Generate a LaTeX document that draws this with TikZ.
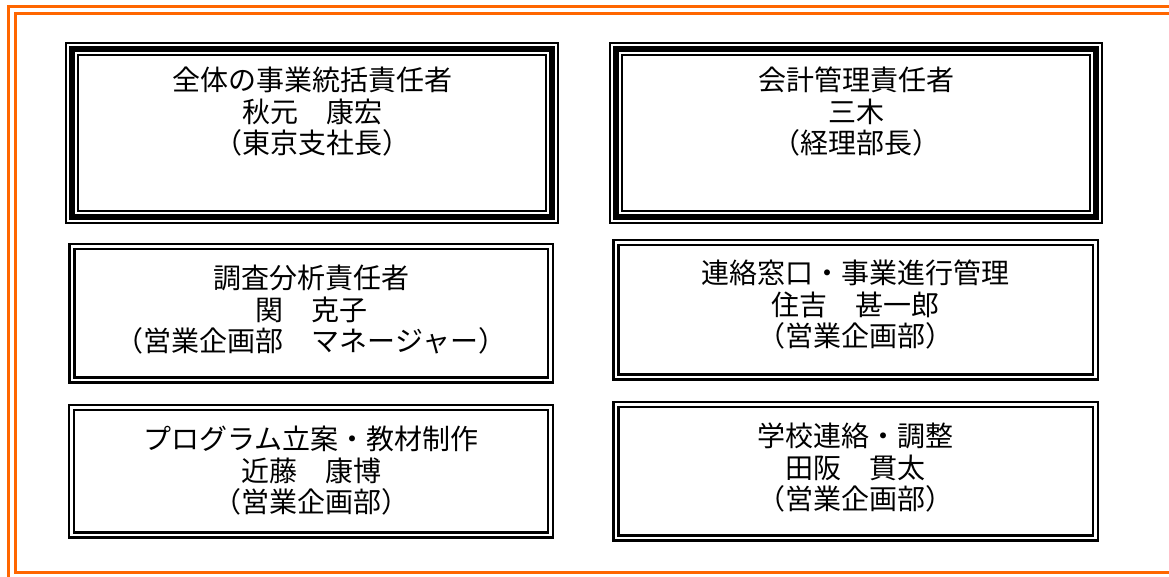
\documentclass[tikz,border=0pt]{standalone}
\usepackage{fontspec}
\setmainfont{Noto Sans CJK JP}
\definecolor{frameorange}{RGB}{255,102,0}
\newcommand\tripleborder[1]{%
  \draw[black,line width=14pt] (#1.north west) rectangle (#1.south east);
  \draw[white,line width=10pt] (#1.north west) rectangle (#1.south east);
  \draw[black,line width=6pt] (#1.north west) rectangle (#1.south east);}
\newcommand\doubleborder[1]{%
  \draw[black,line width=7.5pt] (#1.north west) rectangle (#1.south east);
  \draw[white,line width=2.5pt] (#1.north west) rectangle (#1.south east);}
\begin{document}
\begin{tikzpicture}[x=1pt,y=1pt,line join=miter,
  boxshape/.style={rectangle,inner sep=0pt,outer sep=0pt,draw=none},
  boxtext/.style={align=center,inner sep=0pt,font=\fontsize{28pt}{31.5pt}\selectfont}]
\useasboundingbox (0,0) rectangle (1169,577);
\begin{scope}
  \clip (0,0) rectangle (1169,577);
  \draw[frameorange,line width=10pt] (12,567) rectangle (1180,0.5);
  \draw[white,line width=4pt] (12,567) rectangle (1180,0.5);
\end{scope}
% boxes
\node[boxshape,minimum width=480pt,minimum height=168pt] (tl) at (312,444) {};
\node[boxshape,minimum width=480pt,minimum height=168pt] (tr) at (856,444) {};
\node[boxshape,minimum width=478.5pt,minimum height=133.5pt] (ml) at (311,263.5) {};
\node[boxshape,minimum width=479.5pt,minimum height=134.5pt] (mr) at (855.5,267) {};
\node[boxshape,minimum width=479pt,minimum height=127.5pt] (bl) at (311,105.5) {};
\node[boxshape,minimum width=479.5pt,minimum height=133.5pt] (br) at (855.5,105.5) {};
\tripleborder{tl}
\tripleborder{tr}
\doubleborder{ml}
\doubleborder{mr}
\doubleborder{bl}
\doubleborder{br}
% texts
\node[boxtext] (tlt) at (312,465) {全体の事業統括責任者\\秋元　康宏\\（東京支社長）};
\node[boxtext] (trt) at (856,465) {会計管理責任者\\三木\\（経理部長）};
\node[boxtext] (mlt) at (311,267) {調査分析責任者\\関　克子\\（営業企画部　マネージャー）};
\node[boxtext] (mrt) at (855,272) {連絡窓口・事業進行管理\\住吉　甚一郎\\（営業企画部）};
\node[boxtext] (blt) at (311,106) {プログラム立案・教材制作\\近藤　康博\\（営業企画部）};
\node[boxtext] (brt) at (855,109) {学校連絡・調整\\田阪　貫太\\（営業企画部）};
\end{tikzpicture}
\end{document}
